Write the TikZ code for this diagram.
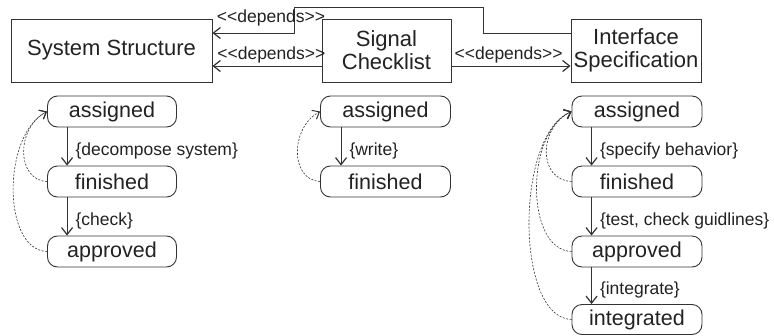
\documentclass[tikz,border=0pt]{standalone}
\usepackage{fontspec}
\setmainfont{Liberation Sans}
\usetikzlibrary{arrows.meta,calc}
\definecolor{ln}{HTML}{333333}
\definecolor{tx}{HTML}{222222}
\begin{document}
\begin{tikzpicture}[x=1pt,y=-1pt,
  box/.style={draw=ln, line width=0.9pt, minimum height=63pt, font=\fontsize{22}{23}\selectfont, text=tx, align=center, inner sep=0pt},
  st/.style={draw=ln, rounded corners=10pt, line width=0.9pt, minimum width=129pt, minimum height=31pt, font=\fontsize{21.5}{23}\selectfont, text=tx, inner sep=0pt},
  lab/.style={font=\fontsize{17.5}{19}\selectfont, text=tx, inner sep=0pt},
  dep/.style={draw=ln, line width=0.9pt, -{Straight Barb[length=7pt,width=11pt,line width=1.2pt]}},
  tr/.style={draw=ln, line width=0.9pt, -{Straight Barb[length=7pt,width=11pt,line width=1.2pt]}},
  tlab/.style={lab, anchor=west, pos=0.62, xshift=8pt},
  back/.style={draw=ln, line width=0.6pt, dash pattern=on 2pt off 1.5pt, -{Straight Barb[length=6pt,width=10pt,line width=1pt]}}]
\useasboundingbox (0,0) rectangle (774,335);
% main boxes
\node[box, minimum width=201pt] (ss) at (111.5,50.5) {System Structure};
\node[box, minimum width=129pt] (sc) at (386.5,50.5) {Signal\\Checklist};
\node[box, minimum width=130pt] (is) at (636,50.5) {Interface\\Specification};
% dependencies
\coordinate (ty) at (0,33);
\coordinate (my) at (0,66);
\draw[dep] (is.west|-ty) -- (483,33) -- (483,7) -- (294,7) -- (294,33) -- (ss.east|-ty);
\node[lab, anchor=base] (l1) at (271,22) {<\kern0pt<depends>\kern0pt>};
\draw[dep] (sc.west|-my) -- (ss.east|-my) node[lab, pos=0.46, above=2pt] (l2) {<\kern0pt<depends>\kern0pt>};
\draw[dep] (sc.east|-my) -- (is.west|-my) node[lab, pos=0.48, above=2pt] (l3) {<\kern0pt<depends>\kern0pt>};
% system structure states
\node[st] (a1) at (112,111.5) {assigned};
\node[st] (f1) at (112,181.5) {finished};
\node[st] (p1) at (112,251.5) {approved};
\draw[tr] ($(a1.south west)+(20,0)$) -- ($(f1.north west)+(20,0)$) node[tlab] (t1) {\{decompose system\}};
\draw[tr] ($(f1.south west)+(20,0)$) -- ($(p1.north west)+(20,0)$) node[tlab] (t2) {\{check\}};
\draw[back] (f1.west) .. controls (16,180) and (16,128) .. (a1.west);
\draw[back] (p1.west) .. controls (2,250) and (2,135) .. (a1.west);
% signal checklist states
\node[st, minimum width=130pt] (a2) at (385.5,111.5) {assigned};
\node[st, minimum width=130pt] (f2) at (385.5,181.5) {finished};
\draw[tr] ($(a2.south west)+(21,0)$) -- ($(f2.north west)+(21,0)$) node[tlab] (t3) {\{write\}};
\draw[back] (f2.west) .. controls (290,180) and (290,128) .. (a2.west);
% interface specification states
\node[st, minimum width=130pt] (a3) at (637,111.5) {assigned};
\node[st, minimum width=130pt] (f3) at (637,181.5) {finished};
\node[st, minimum width=130pt] (p3) at (637,251.5) {approved};
\node[st, minimum width=130pt, minimum height=30pt] (i3) at (637,319.5) {integrated};
\draw[tr] ($(a3.south west)+(20,0)$) -- ($(f3.north west)+(20,0)$) node[tlab] (t4) {\{specify behavior\}};
\draw[tr] ($(f3.south west)+(20,0)$) -- ($(p3.north west)+(20,0)$) node[tlab] (t5) {\{test, check guidlines\}};
\draw[tr] ($(p3.south west)+(20,0)$) -- ($(i3.north west)+(20,0)$) node[tlab] (t6) {\{integrate\}};
\draw[back] (f3.west) .. controls (538,180) and (538,128) .. (a3.west);
\draw[back] (p3.west) .. controls (525,250) and (525,132) .. (a3.west);
\draw[back] (i3.west) .. controls (515,318) and (515,135) .. (a3.west);
\end{tikzpicture}
\end{document}
